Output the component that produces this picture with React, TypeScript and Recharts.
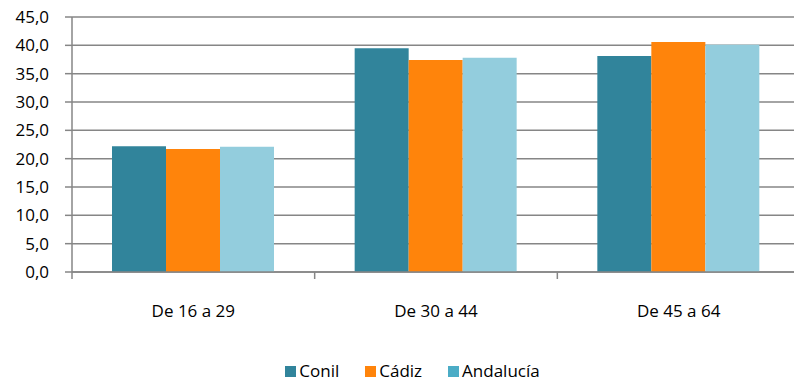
import { Bar, BarChart, CartesianGrid, Legend, XAxis, YAxis } from "recharts";

// Población por grupos de edad (%) — Conil, Cádiz, Andalucía
const categories = ["De 16 a 29", "De 30 a 44", "De 45 a 64"];
const conil = [22.2, 39.5, 38.1];
const cadiz = [21.7, 37.4, 40.6];
const andalucia = [22.1, 37.8, 40.1];
const yTicks = [0, 5, 10, 15, 20, 25, 30, 35, 40, 45];

const series = [
  { key: "conil", name: "Conil", fill: "#31849B", swatch: "#31849B" },
  { key: "cadiz", name: "Cádiz", fill: "#FF840B", swatch: "#FF840B" },
  { key: "andalucia", name: "Andalucía", fill: "#93CDDD", swatch: "#4BACC6" },
];

const data = categories.map((name, i) => ({
  name,
  conil: conil[i],
  cadiz: cadiz[i],
  andalucia: andalucia[i],
}));

const FONT = "'Open Sans', sans-serif";
const FONT_SIZE = 17;
const AXIS_COLOR = "#868686";
const WIDTH = 800;
const Y_WIDTH = 72;
const BAND = (WIDTH - Y_WIDTH) / categories.length;

// category labels centred, tick marks on the category boundaries (Excel style)
function CategoryTick({ x, y, payload }: { x?: number; y?: number; payload?: { value: string } }) {
  const cx = x ?? 0;
  const cy = y ?? 0;
  return (
    <g>
      <line x1={cx - BAND / 2} x2={cx - BAND / 2} y1={cy - 8} y2={cy - 1} stroke={AXIS_COLOR} strokeWidth={1.5} />
      <text x={cx} y={cy + 37} textAnchor="middle" fontSize={FONT_SIZE} fill="#000" fontFamily={FONT}>
        {payload?.value}
      </text>
    </g>
  );
}

function LegendBox() {
  return (
    <div
      style={{
        display: "flex",
        justifyContent: "center",
        paddingTop: 49,
        paddingLeft: 25,
        fontFamily: FONT,
        fontSize: FONT_SIZE,
        lineHeight: "20px",
      }}
    >
      {series.map((s) => (
        <div key={s.key} style={{ display: "flex", alignItems: "center", margin: "0 13px" }}>
          <span style={{ width: 11, height: 11, background: s.swatch, marginRight: 3, display: "inline-block" }} />
          <span>{s.name}</span>
        </div>
      ))}
    </div>
  );
}

export default function App() {
  return (
    <div style={{ position: "absolute", left: 0, top: 0, width: 794, height: 382, overflow: "hidden", background: "#fff" }}>
      <BarChart
        width={WIDTH}
        height={382}
        data={data}
        margin={{ top: 17, right: 0, bottom: 0, left: 0 }}
        barGap={0}
        barCategoryGap={40}
      >
        <CartesianGrid vertical={false} stroke={AXIS_COLOR} strokeWidth={1.5} />
        <XAxis
          dataKey="name"
          height={40}
          axisLine={{ stroke: AXIS_COLOR, strokeWidth: 1.5 }}
          tickLine={false}
          tick={<CategoryTick />}
          interval={0}
        />
        <YAxis
          width={Y_WIDTH}
          domain={[0, 45]}
          ticks={yTicks}
          interval={0}
          axisLine={{ stroke: AXIS_COLOR, strokeWidth: 1.5 }}
          tickLine={{ stroke: AXIS_COLOR, strokeWidth: 1.5 }}
          tickSize={7}
          tickMargin={16}
          tick={{ fontSize: FONT_SIZE, fill: "#000", fontFamily: FONT }}
          tickFormatter={(v: number) => v.toFixed(1).replace(".", ",")}
        />
        <Legend verticalAlign="bottom" height={70} content={<LegendBox />} />
        {series.map((s) => (
          <Bar key={s.key} dataKey={s.key} name={s.name} fill={s.fill} isAnimationActive={false} />
        ))}
      </BarChart>
    </div>
  );
}
